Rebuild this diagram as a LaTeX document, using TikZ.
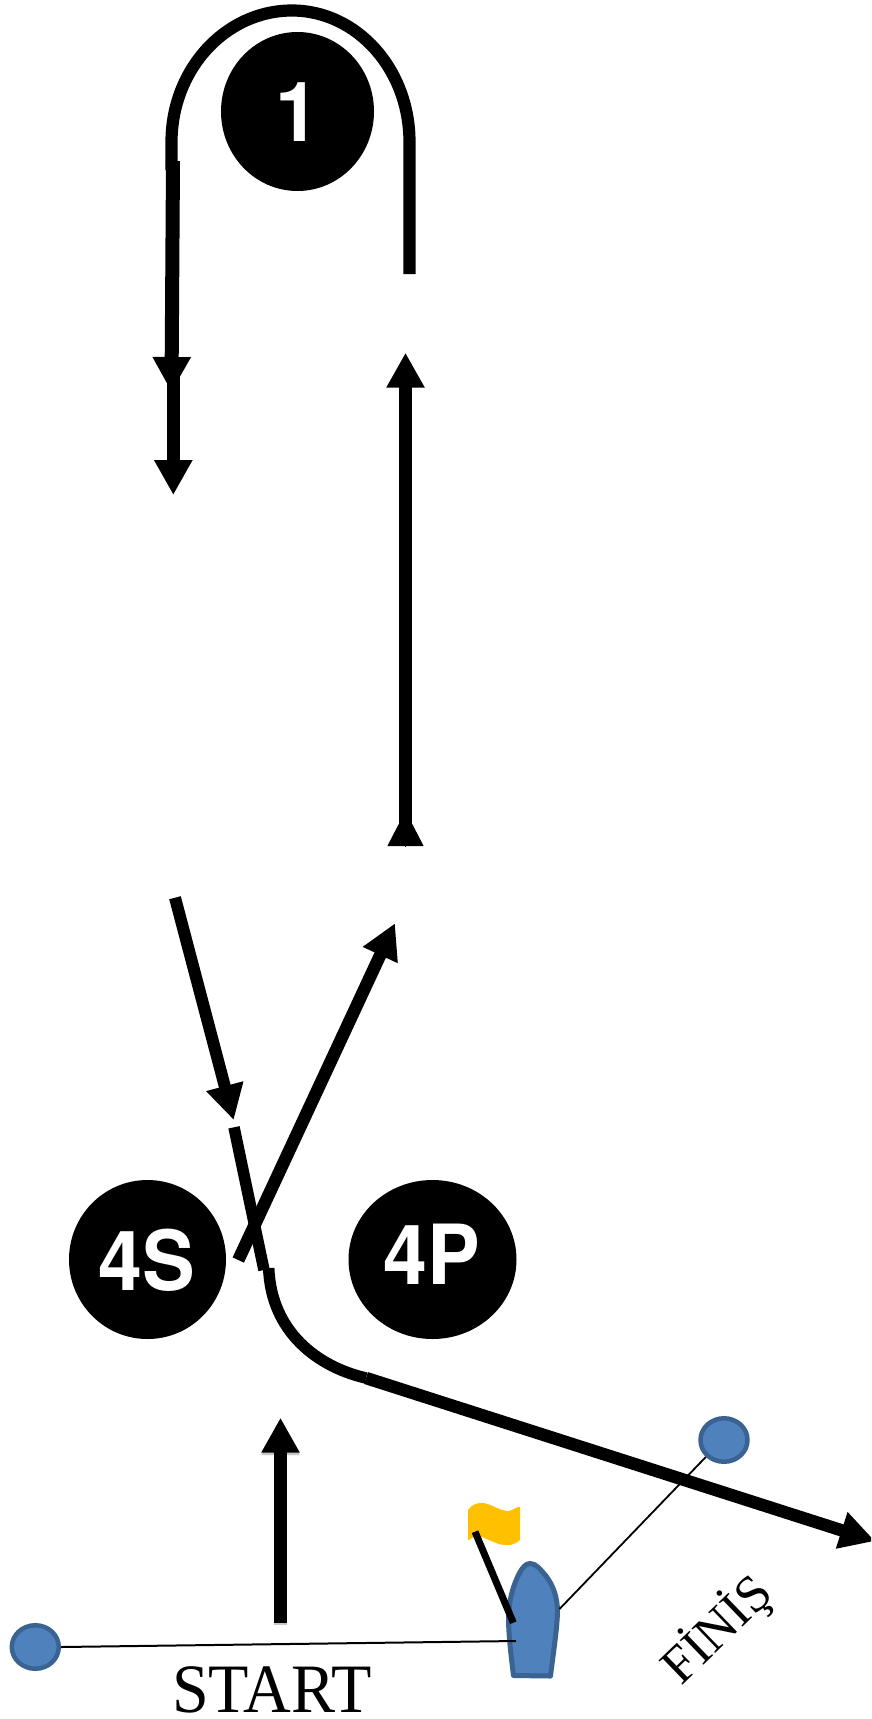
\documentclass[tikz,border=0pt]{standalone}
\usepackage{fontspec}
\setmainfont{Liberation Serif}
\newfontfamily\markfont{TeX Gyre Heros}
\usetikzlibrary{arrows.meta,shapes.geometric}
\definecolor{markblue}{HTML}{4F81BD}
\definecolor{markedge}{HTML}{3A6391}
\definecolor{flagyellow}{HTML}{FFC000}
\tikzset{
  x=1pt,y=-1pt,
  roundmark/.style={ellipse,fill=black,draw=none,inner sep=0pt},
  marktext/.style={text=white,inner sep=0pt,yscale=1.05,font=\markfont\bfseries\fontsize{79}{79}\selectfont},
  buoy/.style={ellipse,fill=markblue,draw=markedge,line width=4.5pt,inner sep=0pt,minimum width=47pt,minimum height=43.5pt},
  headed/.style={-{Triangle[length=35pt,width=36pt]}},
  thinline/.style={draw=black,line width=2pt},
}
\begin{document}
\begin{tikzpicture}
\useasboundingbox (0,0) rectangle (871,1719);
\clip (0,0) rectangle (871,1719);
\fill[white] (0,0) rectangle (871,1719);

% marks
\node[roundmark,minimum width=153pt,minimum height=159pt] (m1) at (297.5,111.5) {};
\node[marktext] (t1) at (297,112) {1};
\node[roundmark,minimum width=157pt,minimum height=159pt] (m4s) at (147.5,1259.5) {};
\node[marktext] (t4s) at (147,1260) {4S};
\node[roundmark,minimum width=168pt,minimum height=159pt] (m4p) at (432.5,1259.5) {};
\node[marktext] (t4p) at (431.5,1254) {4P};

% turn round mark 1
\coordinate (a0) at (409.5,274);
\coordinate (a1) at (409.5,142);
\coordinate (a2) at (292,10.5);
\coordinate (a3) at (171.5,142);
\coordinate (a4) at (171.5,170);
\draw[line width=12.2pt] (a0) -- (a1) .. controls (409.5,69.4) and (357,10.5) .. (a2)
  .. controls (225.5,10.5) and (171.5,69.4) .. (a3) -- (a4);

% down-wind legs on the left
\coordinate (b0) at (173,161);
\coordinate (b1) at (171.5,392);
\draw[headed,line width=14pt] (b0) -- (b1);
\coordinate (c0) at (173.3,374);
\coordinate (c1) at (173.3,495);
\draw[headed,line width=13.3pt] (c0) -- (c1);

% long up-wind leg
\coordinate (d0) at (405.5,846);
\coordinate (d1) at (405.5,811);
\draw[headed,line width=1pt] (d0) -- (d1);
\coordinate (e0) at (405.5,825);
\coordinate (e1) at (405.5,352.7);
\draw[headed,line width=12.5pt] (e0) -- (e1);

% gate legs
\coordinate (f0) at (175,897.7);
\coordinate (f1) at (233.7,1120);
\draw[headed,line width=12pt] (f0) -- (f1);
\coordinate (g0) at (238.3,1260);
\coordinate (g1) at (395,923.3);
\draw[headed,line width=12.5pt] (g0) -- (g1);
\coordinate (h0) at (234,1127.3);
\coordinate (h1) at (264,1270);
\draw[line width=11.5pt] (h0) -- (h1);
\coordinate (i0) at (268.7,1268);
\coordinate (i1) at (366,1378);
\draw[line width=11.5pt] (i0) .. controls (271,1332) and (318,1367) .. (i1);
\coordinate (j1) at (875,1541);
\draw[headed,line width=12.5pt] (i1) -- (j1);

% start arrow with its faint shadow
\coordinate (k0) at (280.5,1622.7);
\coordinate (k1) at (280.5,1417.7);
\draw[headed,line width=13pt,draw=black!22,fill=black!22] ([yshift=-2.5pt]k0) -- ([yshift=-2.5pt]k1);
\draw[headed,line width=13pt] (k0) -- (k1);

% buoys
\node[buoy] (sb) at (35.3,1647) {};
\node[buoy] (fb) at (724,1440) {};

% committee boat
\coordinate (startend) at (516,1641);
\path[fill=markblue,draw=markedge,line width=5pt,line join=round]
  (530,1563.5) .. controls (536,1563.5) and (540,1569) .. (546,1576)
  .. controls (553,1585) and (557.5,1597) .. (557.5,1612)
  .. controls (557,1630) and (553,1655) .. (550.5,1676)
  -- (513.5,1675.5)
  .. controls (511,1655) and (508.5,1635) .. (508.5,1617)
  .. controls (509,1600) and (513,1585) .. (520,1572)
  .. controls (523,1567) and (526,1563.5) .. (530,1563.5) -- cycle;
\coordinate (finend) at (559.5,1609);
\draw[thinline] (sb.east) -- (startend);
\draw[draw=black,line width=1.8pt] (fb.south west) -- (finend);

% flag
\fill[flagyellow] (468,1510) .. controls (472,1504) and (478,1502.5) .. (484,1503)
  .. controls (493,1505) and (500,1511) .. (509,1511)
  .. controls (514,1510) and (517,1506) .. (520,1507)
  -- (520,1540) .. controls (515,1545) and (508,1546) .. (501,1544.5)
  .. controls (491,1542) and (483,1536) .. (476,1536)
  .. controls (472,1537) and (470,1540) .. (468,1540) -- cycle;
\coordinate (p0) at (475,1531.7);
\coordinate (p1) at (513.3,1622.7);
\draw[line width=7pt] (p0) -- (p1);

% labels
\node[inner sep=0pt,yscale=1.05,font=\fontsize{66}{66}\selectfont] (startlbl) at (272,1690) {START};
\node[inner sep=0pt,rotate=44,font=\fontsize{52}{52}\selectfont] (finlbl) at (717,1630) {FİNİŞ};
\end{tikzpicture}
\end{document}
